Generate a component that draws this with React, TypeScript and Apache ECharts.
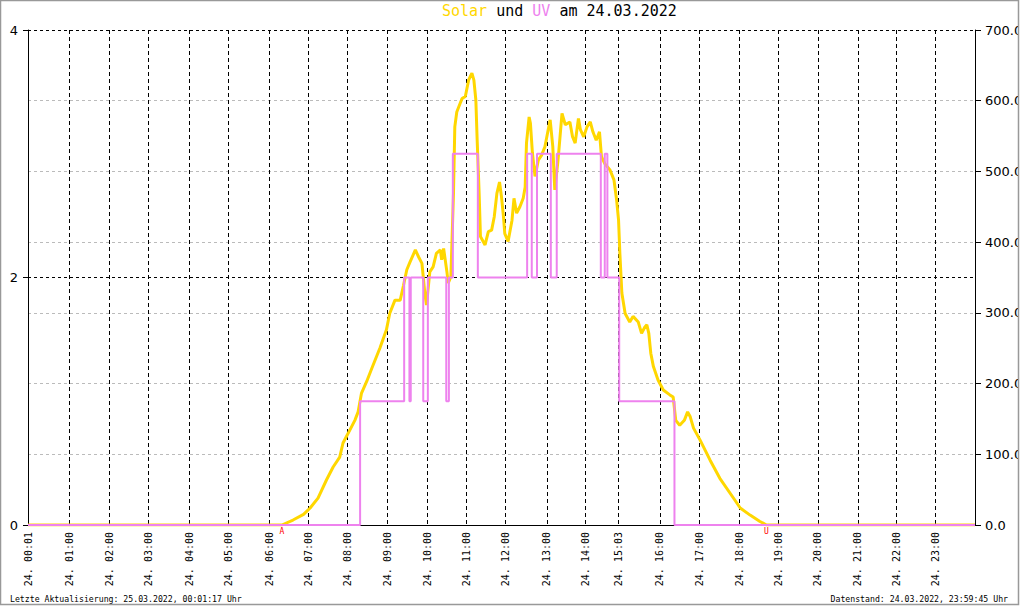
import React, { useEffect, useRef } from "react";
import * as echarts from "echarts";

// x axis = record index of the day's readings (0..1440)
const xMax = 1440;
const tickIdx = [0, 63, 124, 183, 245, 305, 367, 426, 486, 546, 607, 667, 726, 789, 848, 898, 961, 1021, 1082, 1141, 1201, 1262, 1321, 1380];
const tickLabels = [
  "24. 00:01", "24. 01:00", "24. 02:00", "24. 03:00", "24. 04:00", "24. 05:00",
  "24. 06:00", "24. 07:00", "24. 08:00", "24. 09:00", "24. 10:00", "24. 11:00",
  "24. 12:00", "24. 13:00", "24. 14:00", "24. 15:03", "24. 16:00", "24. 17:00",
  "24. 18:00", "24. 19:00", "24. 20:00", "24. 21:00", "24. 22:00", "24. 23:00",
];

// Solar radiation (W/m²) — right axis
const solarIdx = [
  0, 386, 403, 419, 429, 441, 454, 464, 474, 479, 487, 497, 502, 507, 515, 523, 535, 545, 550, 558,
  566, 571, 576, 581, 589, 594, 599, 604, 606, 611, 616, 621, 627, 629, 632, 637, 639, 643, 647, 649,
  652, 657, 660, 665, 670, 675, 678, 681, 683, 686, 688, 695, 700, 705, 709, 713, 717, 720, 723, 725,
  730, 736, 739, 743, 748, 753, 756, 758, 762, 764, 767, 771, 776, 781, 786, 791, 794, 798, 801, 806,
  812, 817, 824, 828, 832, 837, 840, 845, 850, 855, 859, 864, 869, 872, 877, 885, 891, 895, 898, 900,
  903, 908, 915, 920, 928, 933, 938, 941, 944, 947, 951, 958, 966, 976, 981, 985, 991, 998, 1003, 1007,
  1012, 1022, 1037, 1052, 1075, 1083, 1098, 1113, 1123, 1440,
];
const solarVal = [
  0, 0, 7, 15, 24, 38, 64, 82, 96, 116, 130, 148, 160, 186, 203, 222, 250, 276, 299, 318,
  318, 339, 361, 372, 389, 379, 370, 323, 311, 358, 365, 384, 389, 375, 391, 358, 342, 351, 469, 563,
  584, 596, 603, 606, 629, 639, 629, 601, 544, 469, 408, 396, 415, 417, 436, 469, 485, 464, 436, 412,
  401, 431, 462, 441, 450, 462, 478, 540, 577, 568, 526, 493, 516, 523, 535, 559, 573, 535, 474, 516,
  582, 566, 570, 549, 540, 575, 559, 549, 563, 570, 556, 544, 556, 521, 511, 502, 488, 460, 431, 384,
  328, 299, 287, 295, 287, 271, 280, 283, 271, 243, 224, 205, 191, 184, 181, 148, 141, 148, 160, 153,
  137, 120, 92, 66, 35, 24, 14, 5, 0, 0,
];

// UV index — left axis (value begins at given record index)
const uvIdx = [0, 505, 572, 580, 582, 601, 608, 636, 640, 646, 684, 759, 766, 774, 795, 804, 871, 877, 881, 899, 983, 1440];
const uvVal = [0, 1, 2, 1, 2, 1, 2, 1, 2, 3, 2, 3, 2, 3, 2, 3, 2, 3, 2, 1, 0, 0];

const sunriseIdx = 386;
const sunsetIdx = 1123;

const titleDate = "24.03.2022";
const lastUpdate = "Letzte Aktualisierung: 25.03.2022, 00:01:17 Uhr";
const dataState = "Datenstand: 24.03.2022, 23:59:45 Uhr";

const MONO = "DejaVu Sans Mono";
const SANS = "DejaVu Sans";

export default function App() {
  const ref = useRef<HTMLDivElement>(null);
  useEffect(() => {
    if (!ref.current) return;
    const chart = echarts.init(ref.current, null, { renderer: "svg" });
    const solarData = solarIdx.map((x, i) => [x, solarVal[i]]);
    const uvData = uvIdx.map((x, i) => [x, uvVal[i]]);
    chart.setOption({
      animation: false,
      backgroundColor: "#fff",
      title: {
        text: `{s|Solar} {k|und} {u|UV} {k|am ${titleDate}}`,
        left: 442,
        top: 3,
        padding: 0,
        textStyle: {
          fontFamily: MONO,
          fontSize: 15,
          fontWeight: "normal",
          rich: {
            s: { color: "#FFD700", fontFamily: MONO, fontSize: 15 },
            u: { color: "#EE82EE", fontFamily: MONO, fontSize: 15 },
            k: { color: "#000", fontFamily: MONO, fontSize: 15 },
          },
        },
      },
      grid: {
        left: 28,
        right: 45,
        top: 30,
        bottom: 81,
        containLabel: false,
        outerBoundsMode: "none",
      },
      xAxis: {
        type: "value",
        min: 0,
        max: xMax,
        axisLine: { show: true, onZero: false, lineStyle: { color: "#000", width: 1 } },
        axisTick: { show: false, customValues: tickIdx },
        axisLabel: {
          customValues: tickIdx,
          rotate: 90,
          margin: 7,
          fontFamily: MONO,
          fontSize: 10,
          color: "#000",
          formatter: (v: number) => {
            const i = tickIdx.indexOf(v);
            return i >= 0 ? tickLabels[i] : "";
          },
        },
        splitLine: { show: true, lineStyle: { color: "#000", type: [4, 3], width: 1 } },
      },
      yAxis: [
        {
          type: "value",
          position: "left",
          min: 0,
          max: 4,
          interval: 2,
          axisLine: { show: true, lineStyle: { color: "#000" } },
          axisTick: { show: true, length: 5, lineStyle: { color: "#000" } },
          axisLabel: { margin: 10, fontFamily: SANS, fontSize: 13, color: "#000" },
          splitLine: { show: true, lineStyle: { color: "#000", type: [3, 3], width: 1 } },
        },
        {
          type: "value",
          position: "right",
          min: 0,
          max: 700,
          interval: 100,
          axisLine: { show: true, lineStyle: { color: "#000" } },
          axisTick: { show: true, length: 6, lineStyle: { color: "#000" } },
          axisLabel: {
            margin: 10,
            fontFamily: SANS,
            fontSize: 13,
            color: "#000",
            formatter: (v: number) => v.toFixed(1),
          },
          splitLine: {
            show: true,
            showMaxLine: false,
            showMinLine: false,
            lineStyle: { color: "#bbb", type: [3, 3], width: 1 },
          },
        },
      ],
      series: [
        {
          name: "Solar",
          type: "line",
          yAxisIndex: 1,
          data: solarData,
          showSymbol: false,
          symbol: "none",
          lineStyle: { color: "#FFD700", width: 3 },
          itemStyle: { color: "#FFD700" },
          z: 2,
          markPoint: {
            symbol: "rect",
            symbolSize: 1,
            silent: true,
            itemStyle: { color: "rgba(0,0,0,0)" },
            label: {
              show: true,
              position: "bottom",
              distance: 2,
              color: "#f00",
              fontFamily: MONO,
              fontSize: 8,
              formatter: (p: any) => p.name,
            },
            data: [
              { name: "A", coord: [sunriseIdx, 0] },
              { name: "U", coord: [sunsetIdx, 0] },
            ],
          },
        },
        {
          name: "UV",
          type: "line",
          yAxisIndex: 0,
          data: uvData,
          step: "end",
          showSymbol: false,
          symbol: "none",
          lineStyle: { color: "#EE82EE", width: 2 },
          itemStyle: { color: "#EE82EE" },
          z: 3,
        },
      ],
      graphic: [
        {
          type: "text",
          left: 10,
          top: 595,
          style: { text: lastUpdate, fontFamily: MONO, fontSize: 8.2, fill: "#000" },
        },
        {
          type: "text",
          right: 12,
          top: 595,
          style: { text: dataState, fontFamily: MONO, fontSize: 8.2, fill: "#000" },
        },
        {
          type: "rect",
          z: 100,
          shape: { x: 1019, y: 0, width: 4, height: 606 },
          style: { fill: "#fff" },
        },
        {
          type: "rect",
          z: 101,
          shape: { x: 0.5, y: 0.5, width: 1018, height: 604 },
          style: { fill: "none", stroke: "#999", lineWidth: 1.5 },
        },
      ],
    });
    return () => chart.dispose();
  }, []);
  return (
    <div
      ref={ref}
      style={{ position: "fixed", left: 0, top: 0, width: 1020, height: 606 }}
    />
  );
}
